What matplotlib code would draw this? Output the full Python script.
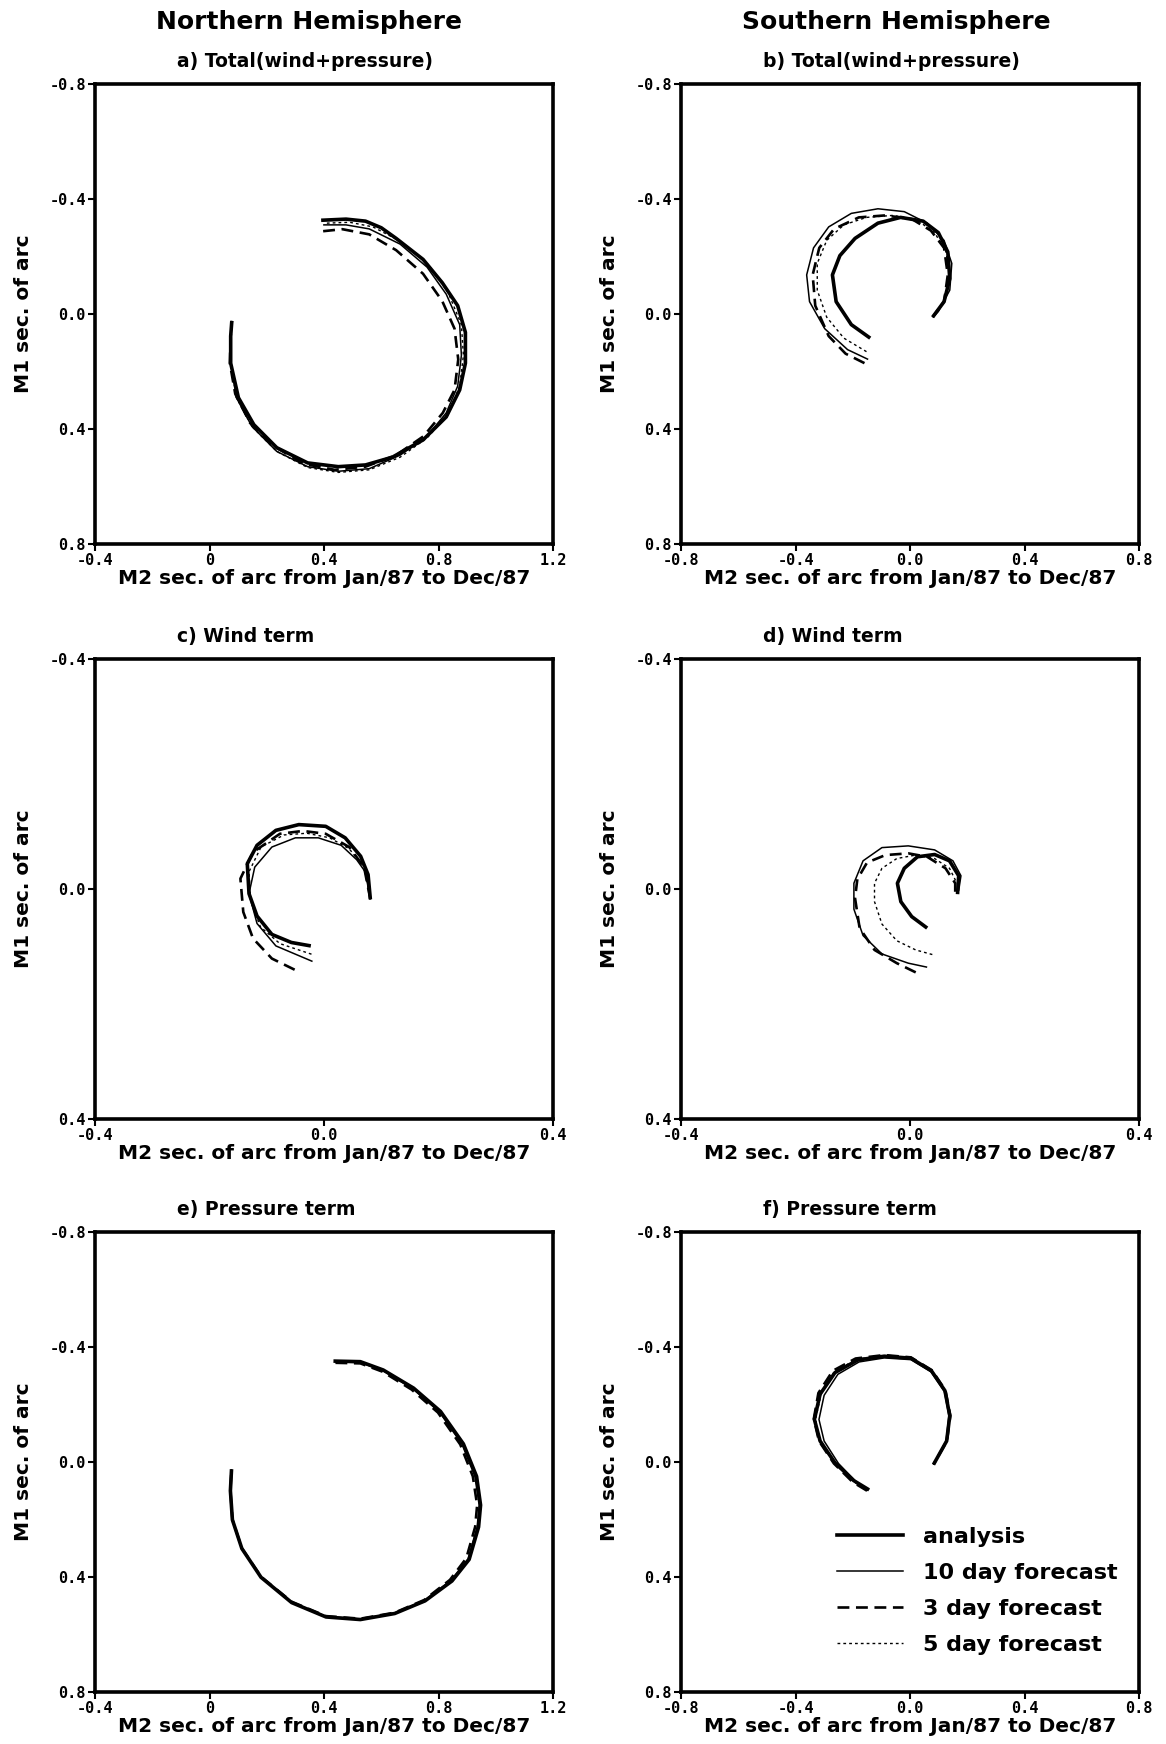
import matplotlib
matplotlib.use("Agg")
import matplotlib.pyplot as plt
from matplotlib.lines import Line2D

# ---------------- data (M2, M1) in seconds of arc ----------------
# a) NH total
a_analysis = [(0.39,-0.326),(0.477,-0.33),(0.545,-0.323),(0.60,-0.30),(0.652,-0.263),(0.746,-0.19),(0.813,-0.109),
              (0.867,-0.029),(0.894,0.064),(0.894,0.171),(0.874,0.264),(0.827,0.358),(0.746,0.438),
              (0.639,0.498),(0.545,0.525),(0.45,0.531),(0.343,0.518),(0.235,0.465),(0.155,0.385),
              (0.101,0.291),(0.074,0.171),(0.074,0.077),(0.078,0.024)]
a_day10 = [(0.397,-0.31),(0.477,-0.31),(0.558,-0.296),(0.666,-0.243),(0.76,-0.163),(0.827,-0.069),
           (0.874,0.037),(0.88,0.144),(0.867,0.251),(0.827,0.344),(0.76,0.425),(0.666,0.491),
           (0.558,0.538),(0.45,0.547),(0.343,0.531),(0.235,0.478),(0.148,0.391),(0.094,0.291),
           (0.074,0.171),(0.074,0.077),(0.078,0.024)]
a_day3 = [(0.397,-0.288),(0.464,-0.295),(0.558,-0.277),(0.652,-0.222),(0.746,-0.14),(0.813,-0.045),
          (0.856,0.051),(0.869,0.158),(0.856,0.264),(0.815,0.344),(0.748,0.425),(0.652,0.491),
          (0.545,0.531),(0.437,0.542),(0.329,0.521),(0.222,0.458),(0.141,0.378),(0.09,0.278),
          (0.071,0.171),(0.074,0.077),(0.078,0.024)]
a_day5 = [(0.41,-0.316),(0.49,-0.319),(0.571,-0.303),(0.672,-0.25),(0.766,-0.17),(0.833,-0.076),
          (0.88,0.037),(0.887,0.144),(0.874,0.251),(0.833,0.351),(0.76,0.431),(0.666,0.498),
          (0.558,0.542),(0.45,0.551),(0.343,0.534),(0.235,0.478),(0.148,0.391),(0.094,0.291),
          (0.074,0.171),(0.074,0.077),(0.078,0.031)]

# b) SH total
b_analysis = [(-0.139,0.084),(-0.205,0.037),(-0.258,-0.043),(-0.271,-0.136),(-0.245,-0.203),(-0.192,-0.263),
              (-0.112,-0.316),(-0.033,-0.336),(0.046,-0.323),(0.099,-0.283),(0.132,-0.216),(0.139,-0.123),
              (0.119,-0.043),(0.079,0.011)]
b_day10 = [(-0.146,0.158),(-0.218,0.124),(-0.298,0.051),(-0.351,-0.043),(-0.361,-0.136),(-0.337,-0.23),
           (-0.284,-0.303),(-0.205,-0.35),(-0.112,-0.366),(-0.02,-0.356),(0.06,-0.316),(0.119,-0.256),
           (0.146,-0.176),(0.139,-0.083),(0.099,-0.009),(0.079,0.011)]
b_day3 = [(-0.159,0.171),(-0.225,0.138),(-0.284,0.077),(-0.331,-0.029),(-0.34,-0.136),(-0.317,-0.23),
          (-0.265,-0.296),(-0.179,-0.336),(-0.086,-0.343),(0.007,-0.33),(0.073,-0.29),(0.119,-0.23),
          (0.132,-0.136),(0.119,-0.043),(0.079,0.011)]
b_day5 = [(-0.152,0.131),(-0.231,0.084),(-0.291,0.011),(-0.324,-0.083),(-0.324,-0.176),(-0.291,-0.256),
          (-0.231,-0.31),(-0.152,-0.336),(-0.06,-0.343),(0.02,-0.33),(0.086,-0.283),(0.126,-0.216),
          (0.139,-0.136),(0.119,-0.043),(0.079,0.011)]

# c) NH wind
c_analysis = [(0.081,0.018),(0.077,-0.025),(0.064,-0.057),(0.037,-0.089),(0.003,-0.109),(-0.044,-0.112),
              (-0.084,-0.102),(-0.117,-0.076),(-0.134,-0.044),(-0.131,0.008),(-0.117,0.047),(-0.091,0.079),
              (-0.057,0.093),(-0.023,0.099)]
c_day10 = [(0.081,0.018),(0.072,-0.03),(0.057,-0.051),(0.03,-0.076),(-0.01,-0.089),(-0.05,-0.089),
           (-0.091,-0.073),(-0.121,-0.038),(-0.131,0.008),(-0.117,0.06),(-0.084,0.099),(-0.02,0.126)]
c_day3 = [(0.081,0.018),(0.07,-0.038),(0.044,-0.073),(0.003,-0.096),(-0.037,-0.101),(-0.077,-0.096),
          (-0.124,-0.064),(-0.146,-0.018),(-0.141,0.04),(-0.124,0.086),(-0.091,0.121),(-0.05,0.141)]
c_day5 = [(0.081,0.018),(0.07,-0.038),(0.044,-0.07),(0.01,-0.089),(-0.03,-0.097),(-0.07,-0.094),
          (-0.11,-0.073),(-0.131,-0.03),(-0.128,0.021),(-0.111,0.066),(-0.077,0.095),(-0.017,0.115)]

# d) SH wind
d_analysis = [(0.03,0.068),(0.003,0.048),(-0.016,0.022),(-0.022,-0.01),(-0.01,-0.036),(0.013,-0.056),
              (0.043,-0.06),(0.069,-0.049),(0.085,-0.023),(0.083,0.009)]
d_day10 = [(0.03,0.136),(-0.003,0.129),(-0.049,0.113),(-0.082,0.081),(-0.098,0.035),(-0.098,-0.01),
           (-0.082,-0.049),(-0.049,-0.072),(-0.003,-0.075),(0.043,-0.068),(0.075,-0.049),(0.089,-0.023),
           (0.085,0.003)]
d_day3 = [(0.01,0.145),(-0.023,0.129),(-0.062,0.106),(-0.088,0.068),(-0.096,0.016),(-0.092,-0.017),
          (-0.075,-0.046),(-0.043,-0.059),(-0.003,-0.062),(0.03,-0.056),(0.062,-0.036),(0.079,-0.01),
          (0.079,0.016)]
d_day5 = [(0.039,0.114),(0.01,0.106),(-0.023,0.09),(-0.049,0.061),(-0.062,0.022),(-0.062,-0.01),
          (-0.049,-0.036),(-0.023,-0.053),(0.01,-0.059),(0.043,-0.053),(0.069,-0.036),(0.082,-0.01)]

# e) NH pressure
e_analysis = [(0.433,-0.351),(0.527,-0.349),(0.607,-0.32),(0.713,-0.257),(0.807,-0.176),(0.887,-0.063),
              (0.933,0.05),(0.947,0.15),(0.94,0.226),(0.907,0.339),(0.847,0.414),(0.753,0.483),
              (0.647,0.527),(0.527,0.548),(0.407,0.539),(0.287,0.489),(0.18,0.401),(0.113,0.301),
              (0.08,0.201),(0.073,0.1),(0.077,0.025)]
e_day10 = [(0.44,-0.348),(0.527,-0.346),(0.607,-0.317),(0.71,-0.255),(0.803,-0.174),(0.882,-0.062),
           (0.927,0.05),(0.942,0.15),(0.935,0.226),(0.903,0.337),(0.843,0.412),(0.751,0.481),
           (0.647,0.525),(0.527,0.546),(0.407,0.537),(0.287,0.487),(0.18,0.4),(0.113,0.3),
           (0.08,0.2),(0.073,0.1),(0.077,0.025)]
e_day3 = [(0.44,-0.345),(0.527,-0.343),(0.605,-0.314),(0.706,-0.252),(0.798,-0.172),(0.876,-0.061),
          (0.92,0.05),(0.935,0.15),(0.928,0.226),(0.897,0.335),(0.84,0.41),(0.75,0.48),
          (0.647,0.524),(0.527,0.545),(0.407,0.536),(0.287,0.486),(0.18,0.399),(0.113,0.3),
          (0.08,0.2),(0.073,0.1),(0.077,0.025)]
e_day5 = [(0.437,-0.35),(0.527,-0.348),(0.607,-0.319),(0.712,-0.256),(0.806,-0.175),(0.885,-0.063),
          (0.93,0.05),(0.945,0.15),(0.938,0.226),(0.905,0.338),(0.845,0.413),(0.752,0.482),
          (0.647,0.526),(0.527,0.547),(0.407,0.538),(0.287,0.488),(0.18,0.4),(0.113,0.3),
          (0.08,0.2),(0.073,0.1),(0.077,0.025)]

# f) SH pressure
f_analysis = [(-0.143,0.097),(-0.196,0.065),(-0.262,0.003),(-0.314,-0.073),(-0.334,-0.148),(-0.314,-0.236),
              (-0.262,-0.311),(-0.182,-0.355),(-0.09,-0.368),(0.003,-0.361),(0.075,-0.317),(0.122,-0.248),
              (0.139,-0.161),(0.128,-0.073),(0.082,0.009)]
f_day10 = [(-0.143,0.097),(-0.19,0.067),(-0.25,0.005),(-0.3,-0.073),(-0.318,-0.148),(-0.3,-0.232),
           (-0.252,-0.305),(-0.178,-0.348),(-0.09,-0.362),(0.003,-0.356),(0.073,-0.314),(0.12,-0.246),
           (0.136,-0.161),(0.126,-0.073),(0.082,0.009)]
f_day3 = [(-0.15,0.1),(-0.2,0.07),(-0.266,0.005),(-0.318,-0.073),(-0.336,-0.15),(-0.32,-0.24),
          (-0.27,-0.317),(-0.19,-0.36),(-0.09,-0.372),(0.003,-0.364),(0.077,-0.319),(0.124,-0.249),
          (0.141,-0.161),(0.129,-0.073),(0.082,0.009)]
f_day5 = [(-0.148,0.099),(-0.198,0.068),(-0.264,0.004),(-0.316,-0.073),(-0.33,-0.149),(-0.31,-0.238),
          (-0.265,-0.314),(-0.186,-0.358),(-0.09,-0.37),(0.003,-0.363),(0.076,-0.318),(0.123,-0.249),
          (0.14,-0.161),(0.128,-0.073),(0.082,0.009)]

# axis ticks
nh_xticks = [-0.4, 0.0, 0.4, 0.8, 1.2]
nh_xticklabels = ["-0.4", "0", "0.4", "0.8", "1.2"]
sh_xticks = [-0.8, -0.4, 0.0, 0.4, 0.8]
sh_xticklabels = ["-0.8", "-0.4", "0.0", "0.4", "0.8"]
big_yticks = [-0.8, -0.4, 0.0, 0.4, 0.8]
big_yticklabels = ["-0.8", "-0.4", "0.0", "0.4", "0.8"]
wind_ticks = [-0.4, 0.0, 0.4]
wind_ticklabels = ["-0.4", "0.0", "0.4"]

titles = ["a) Total(wind+pressure)", "b) Total(wind+pressure)", "c) Wind term",
          "d) Wind term", "e) Pressure term", "f) Pressure term"]
series_labels = ["analysis", "10 day forecast", "3 day forecast", "5 day forecast"]

# ---------------- styles ----------------
styles = [dict(color="black", lw=2.6, ls="-"),
          dict(color="black", lw=1.1, ls="-"),
          dict(color="black", lw=1.9, ls=(0, (4.5, 2.5))),
          dict(color="black", lw=1.0, ls=(0, (2, 2.2)))]

fig = plt.figure(figsize=(11.66, 17.44), dpi=100)
W, H = 1166, 1744
lefts = [95, 681]
tops = [84, 659, 1232]
size_w, size_h = 458, 460

panels = [
    (a_analysis, a_day10, a_day3, a_day5, (-0.4, 1.2), (0.8, -0.8), nh_xticks, nh_xticklabels, big_yticks, big_yticklabels),
    (b_analysis, b_day10, b_day3, b_day5, (-0.8, 0.8), (0.8, -0.8), sh_xticks, sh_xticklabels, big_yticks, big_yticklabels),
    (c_analysis, c_day10, c_day3, c_day5, (-0.4, 0.4), (0.4, -0.4), wind_ticks, wind_ticklabels, wind_ticks, wind_ticklabels),
    (d_analysis, d_day10, d_day3, d_day5, (-0.4, 0.4), (0.4, -0.4), wind_ticks, wind_ticklabels, wind_ticks, wind_ticklabels),
    (e_analysis, e_day10, e_day3, e_day5, (-0.4, 1.2), (0.8, -0.8), nh_xticks, nh_xticklabels, big_yticks, big_yticklabels),
    (f_analysis, f_day10, f_day3, f_day5, (-0.8, 0.8), (0.8, -0.8), sh_xticks, sh_xticklabels, big_yticks, big_yticklabels),
]

tickfont = dict(family="DejaVu Sans Mono", weight="bold", size=11)

for i, p in enumerate(panels):
    row, col = divmod(i, 2)
    l = lefts[col] / W
    b = 1 - (tops[row] + size_h) / H
    ax = fig.add_axes([l, b, size_w / W, size_h / H])
    ana, d10, d3, d5, xl, yl, xt, xtl, yt, ytl = p
    for data, st in zip([d10, d3, d5, ana], [styles[1], styles[2], styles[3], styles[0]]):
        xs = [q[0] for q in data]
        ys = [q[1] for q in data]
        ax.plot(xs, ys, solid_capstyle="butt", dash_capstyle="butt",
                solid_joinstyle="round", dash_joinstyle="round", **st)
    ax.set_xlim(*xl)
    ax.set_ylim(*yl)
    ax.set_xticks(xt)
    ax.set_xticklabels(xtl, fontdict=tickfont)
    ax.set_yticks(yt)
    ax.set_yticklabels(ytl, fontdict=tickfont)
    ax.tick_params(direction="out", length=5, width=1.5, pad=1.5, top=False, right=False)
    for s in ax.spines.values():
        s.set_linewidth(2.6)
    ax.set_xlabel("M2 sec. of arc from Jan/87 to Dec/87", fontsize=14.5, weight="bold", labelpad=1)
    ax.set_ylabel("M1 sec. of arc", fontsize=14.5, weight="bold", labelpad=12)
    ax.text(0.18, 1.05, titles[i], transform=ax.transAxes, ha="left", va="center",
            fontsize=13.5, weight="bold")
    if i == 5:
        hs = [Line2D([], [], **styles[k]) for k in range(4)]
        ax.legend(hs, series_labels, loc="lower left", bbox_to_anchor=(0.34, 0.08), frameon=False,
                  prop=dict(size=16, weight="bold"), handlelength=3.0, handletextpad=0.9,
                  labelspacing=0.72, borderpad=0, borderaxespad=0)

fig.text(309 / W, 1 - 22 / H, "Northern Hemisphere", ha="center", va="center", fontsize=18, weight="bold")
fig.text(896 / W, 1 - 22 / H, "Southern Hemisphere", ha="center", va="center", fontsize=18, weight="bold")

fig.savefig("out.png", dpi=100, facecolor="white")
